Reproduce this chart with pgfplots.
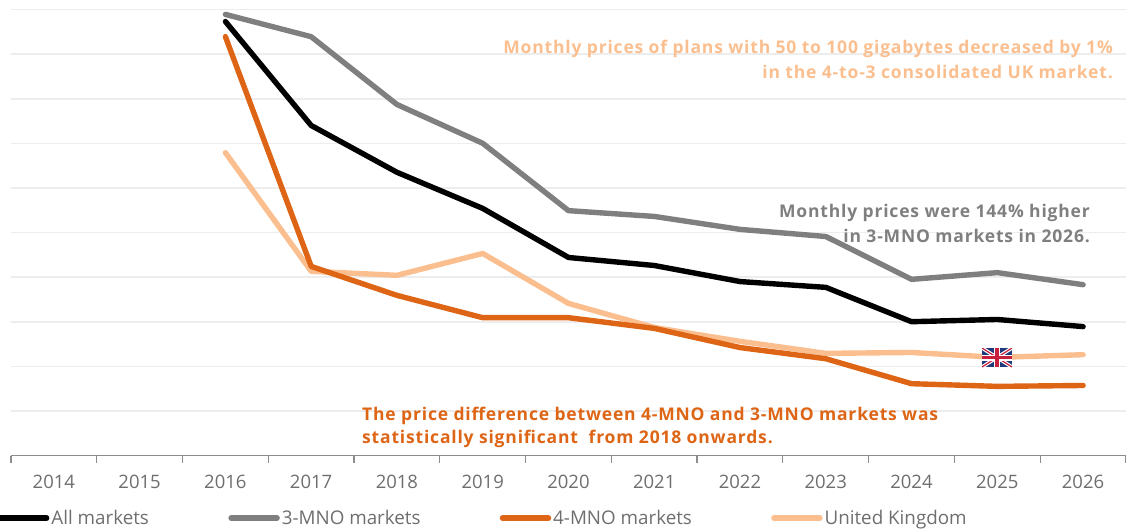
\documentclass[border=0pt]{standalone}
\usepackage{fontspec}
\setmainfont{Open Sans}
\newfontfamily\annot[LetterSpace=4.7]{Open Sans}
\usepackage{pgfplots}
\pgfplotsset{compat=1.18}
\definecolor{cgray}{HTML}{7F7F7F}
\definecolor{corange}{HTML}{DD6515}
\definecolor{cpeach}{HTML}{FBBF8F}
\definecolor{ctext}{HTML}{6E6E6E}
\definecolor{fblue}{HTML}{1F3A7A}
\definecolor{fred}{HTML}{C8203C}
\begin{document}
\begin{tikzpicture}[x=1pt,y=1pt]
\path[use as bounding box] (0,0) rectangle (1129,531);
\begin{axis}[
  at={(11pt,75.5pt)}, anchor=south west,
  scale only axis, width=1115pt, height=446pt,
  xmin=2013.5, xmax=2026.5, ymin=0, ymax=100,
  axis x line*=bottom, axis y line*=left,
  y axis line style={draw=none},
  x axis line style={draw=black!45, line width=1.5pt, -},
  xtick={2014,...,2026},
  minor xtick={2013.5,2014.5,...,2026.5},
  major tick length=0pt, minor tick length=7pt,
  tick align=outside, xtick pos=bottom,
  minor tick style={draw=black!45, line width=1.2pt},
  xticklabel style={font=\fontsize{18.5}{20}\selectfont, text=ctext, yshift=-16pt},
  /pgf/number format/1000 sep={},
  /pgf/number format/assume math mode=true,
  ytick={10,20,...,100}, yticklabels={}, ymajorgrids,
  major grid style={draw=black!7, line width=1.6pt},
  clip=false,
  legend columns=4,
  legend style={at={(-11pt,-75.5pt)}, anchor=south west, xshift=-2pt, yshift=3pt, draw=none, fill=none,
    font=\fontsize{18.8}{20}\selectfont, text=ctext, inner sep=0pt, outer sep=0pt,
    /tikz/every even column/.style={column sep=0pt}},
  legend image code/.code={\draw[#1, line cap=round, line width=5.4pt] (0pt,0pt) -- (46pt,0pt);},
  every axis plot/.append style={line width=5.4pt, line join=round, line cap=round},
]
\addplot[cpeach, forget plot] coordinates {(2016,67.9)(2017,41.3)(2018,40.4)(2019,45.3)(2020,34.1)(2021,28.7)(2022,25.6)(2023,22.9)(2024,23.1)(2025,22.0)(2026,22.6)};
\addplot[corange, forget plot] coordinates {(2016,93.9)(2017,42.4)(2018,35.9)(2019,30.9)(2020,30.9)(2021,28.5)(2022,24.2)(2023,21.7)(2024,16.1)(2025,15.5)(2026,15.7)};
\addplot[cgray, forget plot] coordinates {(2016,98.9)(2017,93.9)(2018,78.7)(2019,70.0)(2020,54.9)(2021,53.6)(2022,50.7)(2023,49.1)(2024,39.5)(2025,41.0)(2026,38.3)};
\addplot[black] coordinates {(2016,97.3)(2017,74.0)(2018,63.5)(2019,55.4)(2020,44.4)(2021,42.6)(2022,39.0)(2023,37.7)(2024,30.0)(2025,30.5)(2026,28.9)};
\addlegendentry{\makebox[175pt][l]{All markets}}
\addplot[cgray] coordinates {(2100,0)};
\addlegendentry{\makebox[216pt][l]{3-MNO markets}}
\addplot[corange] coordinates {(2100,0)};
\addlegendentry{\makebox[216pt][l]{4-MNO markets}}
\addplot[cpeach] coordinates {(2100,0)};
\addlegendentry{\makebox[150pt][l]{United Kingdom}}
\end{axis}
% annotations (page coordinates: y = 531 - pixel)
\tikzset{ann/.style={inner sep=0pt, font=\fontsize{17.5}{20}\selectfont\annot\bfseries}}
\node[anchor=east, ann, text=cpeach] at (1113,482.5) {Monthly prices of plans with 50 to 100 gigabytes decreased by 1\%};
\node[anchor=east, ann, text=cpeach] at (1113,459.5) {in the 4-to-3 consolidated UK market.};
\node[anchor=east, ann, text=cgray] at (1090,318.5) {Monthly prices were 144\% higher};
\node[anchor=east, ann, text=cgray] at (1090,295.5) {in 3-MNO markets in 2026.};
\node[anchor=west, ann, text=corange] at (362,115.5) {The price difference between 4-MNO and 3-MNO markets was};
\node[anchor=west, ann, text=corange] at (362,92) {statistically significant\ \ from 2018 onwards.};
% flag
\begin{scope}
\clip (982,164) rectangle (1012,183);
\fill[fblue] (982,164) rectangle (1012,183);
\draw[white, line width=3.5pt] (982,164) -- (1012,183) (982,183) -- (1012,164);
\draw[fred, line width=1.2pt] (982,164) -- (1012,183) (982,183) -- (1012,164);
\draw[white, line width=6pt] (997,164) -- (997,183) (982,173.5) -- (1012,173.5);
\draw[fred, line width=3.5pt] (997,164) -- (997,183) (982,173.5) -- (1012,173.5);
\end{scope}
\end{tikzpicture}
\end{document}
